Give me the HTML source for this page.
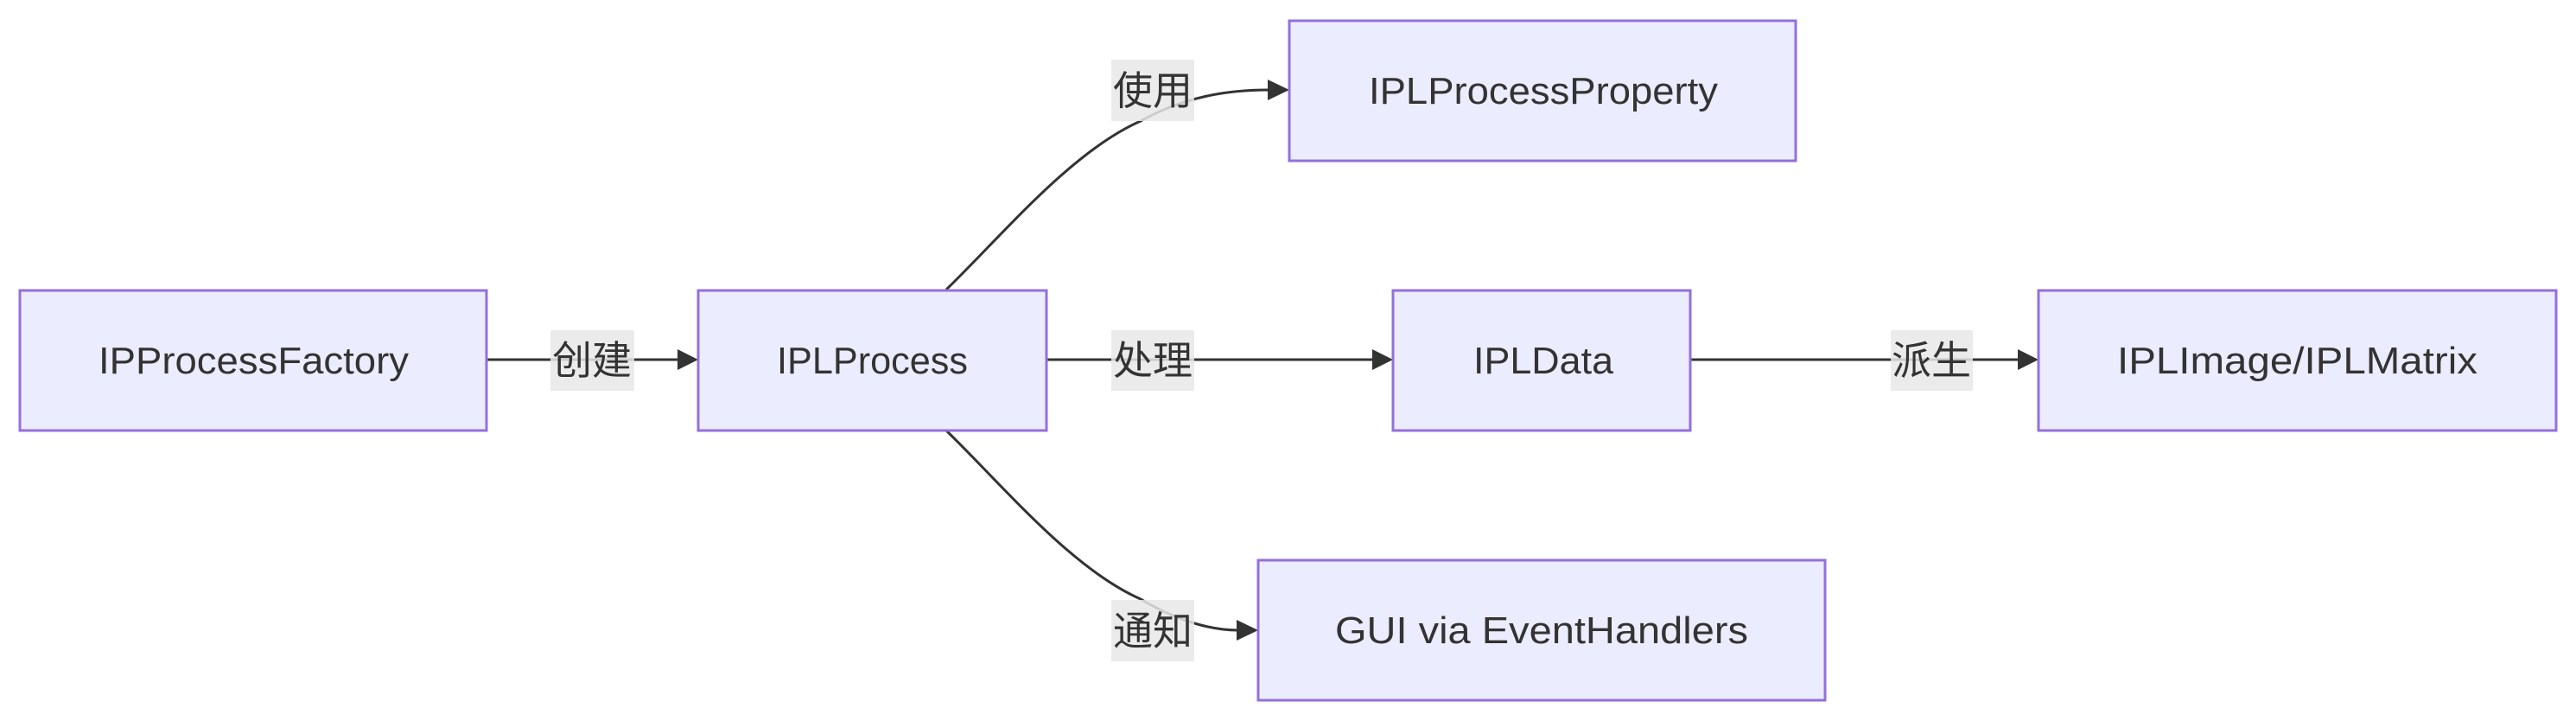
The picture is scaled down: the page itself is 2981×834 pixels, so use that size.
<!DOCTYPE html>
<html><head><meta charset="utf-8"><style>
html,body{margin:0;padding:0;background:#fff;}
svg{display:block;}
.n{fill:#ECECFF;stroke:#9370DB;stroke-width:3;}
.t{font-family:"Liberation Sans","Noto Sans CJK SC",sans-serif;font-size:44px;fill:#333;}
.l{font-family:"Liberation Sans","Noto Sans CJK SC",sans-serif;font-size:46px;fill:#333;}
.e{fill:none;stroke:#333;stroke-width:3;}
.lb{fill:rgba(232,232,232,0.85);}
</style></head><body>
<svg width="2981" height="834" viewBox="0 0 2981 834" xmlns="http://www.w3.org/2000/svg">
<path class="e" d="M563 416 L785 416"/>
<polygon points="784,404 808,416 784,428" fill="#333"/>
<path class="e" d="M1211 416 L1589 416"/>
<polygon points="1588,404 1612,416 1588,428" fill="#333"/>
<path class="e" d="M1956 416 L2336 416"/>
<polygon points="2335,404 2359,416 2335,428" fill="#333"/>
<path class="e" d="M1095 335 C1160 272 1240 175 1320 140 C1370 112 1420 104 1468 104"/>
<polygon points="1467,92 1492,104 1467,116" fill="#333"/>
<path class="e" d="M1095 498 C1160 561 1240 658 1320 693 C1365 720 1405 729 1432 729"/>
<polygon points="1431,717 1456,729 1431,741" fill="#333"/>
<rect class="lb" x="637" y="382" width="97" height="70"/>
<text class="l" x="685" y="433" text-anchor="middle">创建</text>
<rect class="lb" x="1286" y="382" width="96" height="70"/>
<text class="l" x="1334" y="433" text-anchor="middle">处理</text>
<rect class="lb" x="2188" y="382" width="95" height="70"/>
<text class="l" x="2235" y="433" text-anchor="middle">派生</text>
<rect class="lb" x="1286" y="69" width="96" height="71"/>
<text class="l" x="1334" y="121" text-anchor="middle">使用</text>
<rect class="lb" x="1286" y="694" width="96" height="71"/>
<text class="l" x="1334" y="746" text-anchor="middle">通知</text>
<rect class="n" x="23" y="336" width="540" height="162"/>
<text class="t" x="114" y="432" textLength="359" lengthAdjust="spacingAndGlyphs">IPProcessFactory</text>
<rect class="n" x="808" y="336" width="403" height="162"/>
<text class="t" x="899" y="432" textLength="221" lengthAdjust="spacingAndGlyphs">IPLProcess</text>
<rect class="n" x="1612" y="336" width="344" height="162"/>
<text class="t" x="1705" y="432" textLength="162" lengthAdjust="spacingAndGlyphs">IPLData</text>
<rect class="n" x="2359" y="336" width="599" height="162"/>
<text class="t" x="2450" y="432" textLength="417" lengthAdjust="spacingAndGlyphs">IPLImage/IPLMatrix</text>
<rect class="n" x="1492" y="24" width="586" height="162"/>
<text class="t" x="1584" y="120" textLength="404" lengthAdjust="spacingAndGlyphs">IPLProcessProperty</text>
<rect class="n" x="1456" y="648" width="656" height="162"/>
<text class="t" x="1545" y="744" textLength="478" lengthAdjust="spacingAndGlyphs">GUI via EventHandlers</text>
</svg>
</body></html>
